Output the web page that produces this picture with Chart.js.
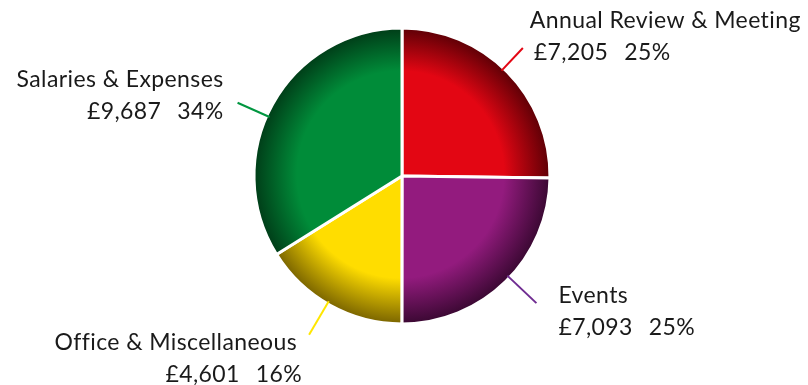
<!DOCTYPE html>
<html>
<head>
<meta charset="utf-8">
<script src="https://cdn.jsdelivr.net/npm/chart.js@4"></script>
<style>
  html, body { margin: 0; padding: 0; background: #fff; }
  #wrap { width: 808px; height: 385px; }
</style>
</head>
<body>
<div id="wrap"><canvas id="pie" width="808" height="385"></canvas></div>
<script>
// data
var categories = ['Annual Review & Meeting', 'Events', 'Office & Miscellaneous', 'Salaries & Expenses'];
var amounts = [7205, 7093, 4601, 9687];
var amountLabels = ['£7,205', '£7,093', '£4,601', '£9,687'];
var percentLabels = ['25%', '25%', '16%', '34%'];

var baseColors = ['#e30613', '#931b7e', '#ffdd00', '#008c39'];
var edgeColors = ['#5e0006', '#3a0832', '#7a6400', '#003d18'];
var lineColors = ['#e30613', '#6f2c91', '#ffe600', '#009640'];

// leader line tweaks and label placement relative to the leader end
var labelPlace = [
  { align: 'left',  turn: -2,  len: 29, dx: 7,   dy: -20, dx2: 4 },
  { align: 'left',  turn: -2,  len: 38, dx: 22,  dy: 0,   dx2: 0 },
  { align: 'right', turn: 1.3, len: 37, dx: -12, dy: 15,  dx2: 5 },
  { align: 'right', turn: -5,  len: 33, dx: -14, dy: -16, dx2: 0 }
];

var FONT = '23px Lato';
var GAP = 16;

var leaderLabels = {
  id: 'leaderLabels',
  afterDatasetsDraw: function(chart) {
    var c = chart.ctx;
    var arcs = chart.getDatasetMeta(0).data;
    arcs.forEach(function(arc, i) {
      var p = labelPlace[i];
      var mid = (arc.startAngle + arc.endAngle) / 2 + p.turn * Math.PI / 180;
      var R = 147;
      var r0 = R - 2;
      var r1 = R + p.len;
      var x0 = arc.x + Math.cos(mid) * r0, y0 = arc.y + Math.sin(mid) * r0;
      var x1 = arc.x + Math.cos(mid) * r1, y1 = arc.y + Math.sin(mid) * r1;
      c.save();
      c.strokeStyle = lineColors[i];
      c.lineWidth = 2;
      c.beginPath();
      c.moveTo(x0, y0);
      c.lineTo(x1, y1);
      c.stroke();

      c.font = FONT;
      c.letterSpacing = '0.4px';
      c.fillStyle = '#1a1a1a';
      c.textBaseline = 'alphabetic';
      var tx = x1 + p.dx, ty = y1 + p.dy;
      c.textAlign = p.align;
      c.fillText(categories[i], tx, ty);
      var x2 = tx + p.dx2, y2 = ty + 32;
      if (p.align === 'left') {
        c.textAlign = 'left';
        c.fillText(amountLabels[i], x2, y2);
        c.fillText(percentLabels[i], x2 + c.measureText(amountLabels[i]).width + GAP, y2);
      } else {
        c.textAlign = 'right';
        c.fillText(percentLabels[i], x2, y2);
        c.fillText(amountLabels[i], x2 - c.measureText(percentLabels[i]).width - GAP, y2);
      }
      c.restore();
    });
  }
};

function shade(ctx) {
  var area = ctx.chart.chartArea;
  if (!area) return baseColors[ctx.dataIndex];
  var cx = (area.left + area.right) / 2;
  var cy = (area.top + area.bottom) / 2;
  var r = 148;
  var g = ctx.chart.ctx.createRadialGradient(cx - 5, cy - 5, 0, cx, cy, r);
  g.addColorStop(0, baseColors[ctx.dataIndex]);
  g.addColorStop(0.7, baseColors[ctx.dataIndex]);
  g.addColorStop(1, edgeColors[ctx.dataIndex]);
  return g;
}

var chart = new Chart(document.getElementById('pie').getContext('2d'), {
  type: 'pie',
  data: {
    labels: categories,
    datasets: [{
      data: amounts,
      backgroundColor: shade,
      borderColor: '#ffffff',
      borderWidth: 3
    }]
  },
  options: {
    responsive: false,
    animation: false,
    layout: { padding: { left: 252.5, right: 256.5, top: 26.5, bottom: 59.5 } },
    plugins: {
      legend: { display: false },
      tooltip: { enabled: false }
    }
  },
  plugins: [leaderLabels]
});
</script>
</body>
</html>
